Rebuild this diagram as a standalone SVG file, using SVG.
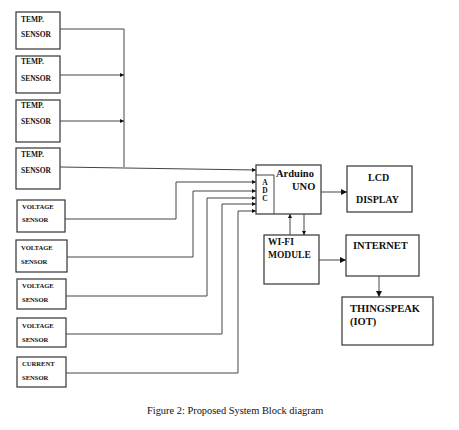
<svg xmlns="http://www.w3.org/2000/svg" width="459" height="430" viewBox="0 0 459 430">
<style>
.box{fill:#fff;stroke:#333;stroke-width:1.2}
.ln{fill:none;stroke:#444;stroke-width:1}
.t{font-family:"Liberation Serif","Times New Roman",serif;font-weight:bold;fill:#111}
.s{font-size:7.5px}
.v{font-size:6.6px}
.m{font-size:10.5px}
.cap{font-family:"Liberation Serif","Times New Roman",serif;font-size:10.4px;fill:#111}
</style>
<defs>
<marker id="a" viewBox="0 0 6 6" refX="6" refY="3" markerWidth="4" markerHeight="4" orient="auto" markerUnits="userSpaceOnUse"><path d="M0,0 L6,3 L0,6 z" fill="#111"/></marker>
<marker id="b" viewBox="0 0 6 6" refX="6" refY="3" markerWidth="6" markerHeight="6" orient="auto" markerUnits="userSpaceOnUse"><path d="M0,0 L6,3 L0,6 z" fill="#111"/></marker>
</defs>
<rect width="459" height="430" fill="#fff"/>
<g id="temp1"><rect class="box" x="16" y="12" width="44" height="37"/><text class="t s" x="21" y="21.5">TEMP.</text><text class="t s" x="21" y="37">SENSOR</text></g>
<g id="temp2"><rect class="box" x="16" y="56" width="44" height="37"/><text class="t s" x="21" y="64">TEMP.</text><text class="t s" x="21" y="81">SENSOR</text></g>
<g id="temp3"><rect class="box" x="16" y="100" width="44" height="42"/><text class="t s" x="21" y="108">TEMP.</text><text class="t s" x="21" y="124">SENSOR</text></g>
<g id="temp4"><rect class="box" x="16" y="148" width="44" height="41"/><text class="t s" x="21" y="157">TEMP.</text><text class="t s" x="21" y="173">SENSOR</text></g>
<g id="volt1"><rect class="box" x="17" y="200" width="48" height="32"/><text class="t v" x="22" y="209">VOLTAGE</text><text class="t v" x="22" y="222">SENSOR</text></g>
<g id="volt2"><rect class="box" x="16" y="240" width="51" height="32"/><text class="t v" x="21" y="249.5">VOLTAGE</text><text class="t v" x="21" y="263.5">SENSOR</text></g>
<g id="volt3"><rect class="box" x="17" y="279" width="49" height="30"/><text class="t v" x="22" y="287.5">VOLTAGE</text><text class="t v" x="22" y="301.5">SENSOR</text></g>
<g id="volt4"><rect class="box" x="17" y="318" width="49" height="29"/><text class="t v" x="22" y="327.5">VOLTAGE</text><text class="t v" x="22" y="341.5">SENSOR</text></g>
<g id="current"><rect class="box" x="17" y="357" width="49" height="30"/><text class="t v" x="22" y="365.5">CURRENT</text><text class="t v" x="22" y="379.5">SENSOR</text></g>
<g id="arduino"><rect class="box" x="256" y="165" width="65" height="49"/><path class="ln" d="M256,175 H274 V214" stroke-width="1.2"/><text class="t m" x="276" y="177">Arduino</text><text class="t m" x="292" y="190">UNO</text><text class="t" font-size="7.5" text-anchor="middle" x="265" y="185">A</text><text class="t" font-size="7.5" text-anchor="middle" x="265" y="193">D</text><text class="t" font-size="7.5" text-anchor="middle" x="265" y="201">C</text></g>
<g id="lcd"><rect class="box" x="347" y="166" width="65" height="46"/><text class="t" font-size="10" x="368" y="181">LCD</text><text class="t" font-size="10" x="356" y="203">DISPLAY</text></g>
<g id="wifi"><rect class="box" x="264" y="235" width="55" height="49"/><text class="t" font-size="9.5" x="268" y="245">WI-FI</text><text class="t" font-size="9.5" x="268" y="258">MODULE</text></g>
<g id="internet"><rect class="box" x="346" y="235" width="73" height="41"/><text class="t m" x="353" y="249">INTERNET</text></g>
<g id="thingspeak"><rect class="box" x="342" y="297" width="91" height="48"/><text class="t m" x="350" y="312">THINGSPEAK</text><text class="t m" x="350" y="325">(IOT)</text></g>
<g id="connectors">
<path class="ln" d="M60,29 H124 V167"/>
<path class="ln" d="M60,75 H124" marker-end="url(#a)"/>
<path class="ln" d="M60,121 H124" marker-end="url(#a)"/>
<path class="ln" d="M60,167 L256,170" marker-end="url(#a)"/>
<path class="ln" d="M65,219 H176 V182 H256" marker-end="url(#a)"/>
<path class="ln" d="M67,257 H193 V191 H256" marker-end="url(#a)"/>
<path class="ln" d="M66,296 H207 V198 H256" marker-end="url(#a)"/>
<path class="ln" d="M66,334 H222 V204 H256" marker-end="url(#a)"/>
<path class="ln" d="M66,373 H238 V211 H256" marker-end="url(#a)"/>
<path class="ln" d="M321,192 H347" marker-end="url(#b)"/>
<path class="ln" d="M290,235 V214" marker-end="url(#a)"/>
<path class="ln" d="M304,214 V235" marker-end="url(#a)"/>
<path class="ln" d="M319,260 H346" marker-end="url(#b)"/>
<path class="ln" d="M379,276 V297" marker-end="url(#b)"/>
</g>
<text class="cap" x="147" y="414">Figure 2: Proposed System Block diagram</text>
</svg>
